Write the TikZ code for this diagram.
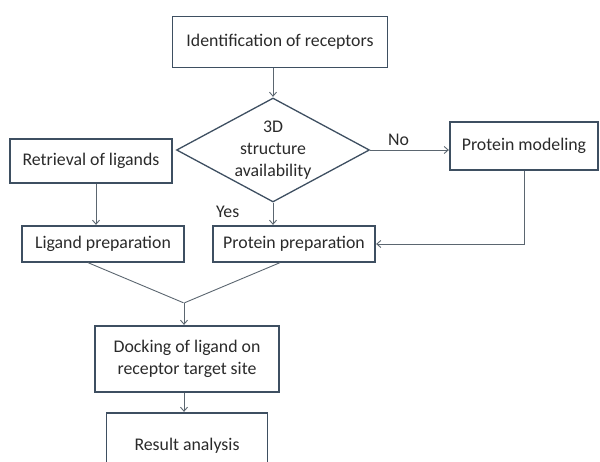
\documentclass[tikz,border=0pt]{standalone}
\usepackage{fontspec}
\setmainfont{Carlito}
\usetikzlibrary{shapes.geometric,arrows.meta}

\definecolor{boxline}{HTML}{3E4F61}
\definecolor{linkline}{HTML}{5B6670}
\definecolor{txt}{HTML}{2A2A2A}

\begin{document}
\begin{tikzpicture}[x=1pt,y=1pt,->,>={Straight Barb[length=4pt,width=7pt]},shorten >=0.5pt,node distance=100pt,
    box/.style={rectangle,draw=boxline,line width=1.3pt,text=txt,font=\fontsize{17.8}{22}\selectfont,align=center,inner sep=0pt},
    check/.style={diamond,aspect=1.86,draw=boxline,line width=1.3pt,text=txt,font=\fontsize{17.8}{22}\selectfont,align=center,inner sep=0pt,minimum width=193pt,minimum height=104pt}]
            \useasboundingbox (0,0) rectangle (600,-461);
            \clip (0,0) rectangle (600,-461);

            \node [box, minimum width=215pt, minimum height=51pt](1) at (280,-42){Identification of receptors};
            \node [check](2) [below of=1, node distance=108pt, xshift=-7pt]{3D\\structure\\availability};
            \node [box, minimum width=162pt, minimum height=44pt](3) [left of=2, node distance=182pt, yshift=-11pt]{Retrieval of ligands};
            \node [box, minimum width=148pt, minimum height=48pt](4) [right of=2, node distance=251pt, yshift=4pt]{Protein modeling};

            \node [box, minimum width=162pt, minimum height=36pt](5) [below of=3, node distance=83pt, xshift=12pt]{Ligand preparation};
            \node [box, minimum width=162pt, minimum height=36pt](6) [below of=2, node distance=94pt, xshift=21pt]{Protein preparation};
            \coordinate (x) at (184,-303);

            \node [box, minimum width=184pt, minimum height=66pt](7) [below of=5, node distance=115pt, xshift=84pt]{Docking of ligand on\\receptor target site};
            \node [box, minimum width=161pt, minimum height=66pt](8) [below of=7, node distance=87pt]{Result analysis};

            \path[linkline, line width=0.9pt, every node/.style={font=\fontsize{17.8}{22}\selectfont, text=txt}]
                (1.south -| 2.north) edge (2.north)
                (2.east) edge node[above=1pt, pos=0.36]{No} (4.west |- 2.east)
                (2.south) edge node[left=30pt, pos=0.4]{Yes} (2.south |- 6.north)
                ([xshift=5pt]3.south) edge ([xshift=5pt]3.south |- 5.north)

                ([xshift=-15pt]5.south) edge[-] (x)
                ([xshift=-14pt]6.south) edge[-] (x)
                (x) edge (x |- 7.north)
                (7.south -| x) edge (x |- 8.north)
                ;
            \draw[linkline, line width=0.9pt] (4.south) |- (6.east);
        \end{tikzpicture}
\end{document}
